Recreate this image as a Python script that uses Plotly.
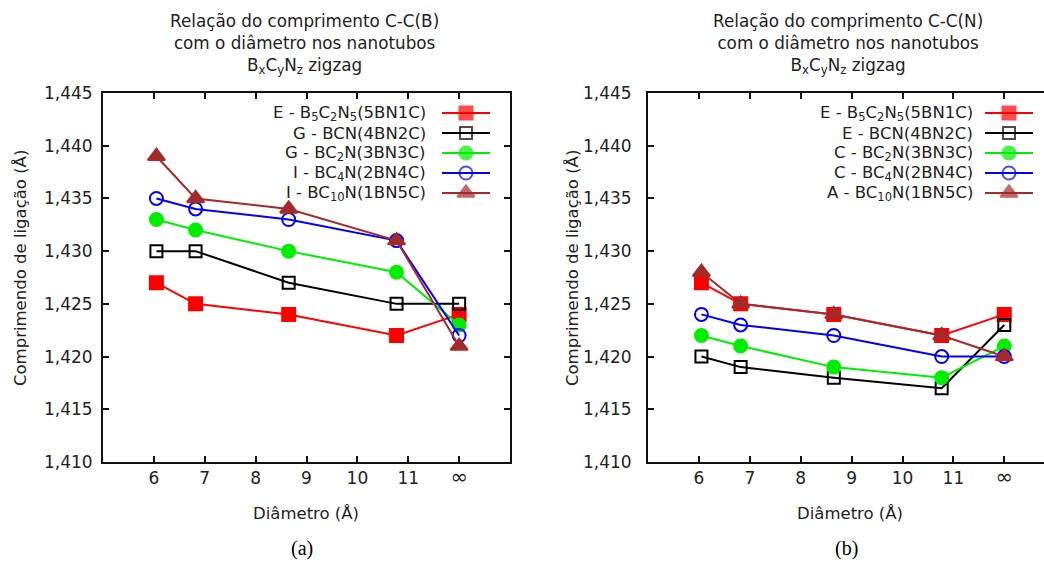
import plotly.graph_objects as go

# ---- data -------------------------------------------------------------
# tube diameters (Å); the last position stands for the infinite sheet (∞)
diam = [6.05, 6.82, 8.65, 10.77, 12.0]
x_tickvals = [6, 7, 8, 9, 10, 11, 12]
x_ticktext = ["6", "7", "8", "9", "10", "11", "<span style='font-size:21px'>∞</span>"]
y_tickvals = [1.410, 1.415, 1.420, 1.425, 1.430, 1.435, 1.440, 1.445]
y_ticktext = ["1,410", "1,415", "1,420", "1,425", "1,430", "1,435", "1,440", "1,445"]

# panel (a): C-C(B) bond length
a_5bn1c = [1.427, 1.425, 1.424, 1.422, 1.424]
a_4bn2c = [1.430, 1.430, 1.427, 1.425, 1.425]
a_3bn3c = [1.433, 1.432, 1.430, 1.428, 1.423]
a_2bn4c = [1.435, 1.434, 1.433, 1.431, 1.422]
a_1bn5c = [1.439, 1.435, 1.434, 1.431, 1.421]

# panel (b): C-C(N) bond length
b_5bn1c = [1.427, 1.425, 1.424, 1.422, 1.424]
b_4bn2c = [1.420, 1.419, 1.418, 1.417, 1.423]
b_3bn3c = [1.422, 1.421, 1.419, 1.418, 1.421]
b_2bn4c = [1.424, 1.423, 1.422, 1.420, 1.420]
b_1bn5c = [1.428, 1.425, 1.424, 1.422, 1.420]

a_labels = [
    "E - B<sub>5</sub>C<sub>2</sub>N<sub>5</sub>(5BN1C)",
    "G - BCN(4BN2C)",
    "G - BC<sub>2</sub>N(3BN3C)",
    "I - BC<sub>4</sub>N(2BN4C)",
    "I - BC<sub>10</sub>N(1BN5C)",
]
b_labels = [
    "E - B<sub>5</sub>C<sub>2</sub>N<sub>5</sub>(5BN1C)",
    "E - BCN(4BN2C)",
    "C - BC<sub>2</sub>N(3BN3C)",
    "C - BC<sub>4</sub>N(2BN4C)",
    "A - BC<sub>10</sub>N(1BN5C)",
]

# ---- styles -----------------------------------------------------------
W, H = 1044, 563
FONT = "DejaVu Sans"
TXT = "#222222"
styles = [
    dict(color="#ff0000", symbol="square", size=13, fill="#ff0000"),
    dict(color="#000000", symbol="square-open", size=12, fill="#000000"),
    dict(color="#00ee00", symbol="circle", size=13, fill="#00ee00"),
    dict(color="#0000ff", symbol="circle-open", size=13, fill="#0000ff"),
    dict(color="#a52a2a", symbol="triangle-up", size=15, fill="#a52a2a"),
]


def px_x(p):
    return p / W


def px_y(p):
    return 1 - p / H


fig = go.Figure()

panels = [
    ("x", "y", [a_5bn1c, a_4bn2c, a_3bn3c, a_2bn4c, a_1bn5c]),
    ("x2", "y2", [b_5bn1c, b_4bn2c, b_3bn3c, b_2bn4c, b_1bn5c]),
]
for xa, ya, series in panels:
    for vals, st in zip(series, styles):
        fig.add_trace(go.Scatter(
            x=diam, y=vals, xaxis=xa, yaxis=ya, mode="lines+markers",
            line=dict(color=st["color"], width=2),
            marker=dict(symbol=st["symbol"], size=st["size"], color=st["fill"],
                        line=dict(color=st["color"], width=2)),
            showlegend=False, cliponaxis=False,
        ))

# legend keys drawn on a full-page pixel overlay (x3/y3)
legend_rows = [113, 133, 153, 173, 193]
legend_cfg = [
    (a_labels, 428, 442, 490),
    (b_labels, 975, 985, 1033),
]
annotations = []
for labels, text_right, k0, k1 in legend_cfg:
    for lab, yy, st in zip(labels, legend_rows, styles):
        fig.add_trace(go.Scatter(
            x=[k0, (k0 + k1) / 2, k1], y=[yy, yy, yy], xaxis="x3", yaxis="y3",
            mode="lines+markers",
            line=dict(color=st["color"], width=2),
            marker=dict(symbol=st["symbol"], size=[0, st["size"], 0], color=st["fill"],
                        line=dict(color=st["color"], width=2)),
            showlegend=False, cliponaxis=False, hoverinfo="skip",
        ))
        annotations.append(dict(
            x=text_right, y=yy, xref="x3", yref="y3", text=lab, showarrow=False,
            xanchor="right", yanchor="middle",
            font=dict(family=FONT, size=16.5, color=TXT),
        ))

# titles, axis titles and panel letters
for cx, letter, bond, ylab_x in [(304, "(a)", "C-C(B)", 20), (848, "(b)", "C-C(N)", 572)]:
    annotations.append(dict(
        x=cx, y=44, xref="x3", yref="y3", showarrow=False,
        text=("Relação do comprimento " + bond + "<br>com o diâmetro nos nanotubos"
              "<br>B<sub>x</sub>C<sub>y</sub>N<sub>z</sub> zigzag"),
        align="center", xanchor="center", yanchor="middle",
        font=dict(family=FONT, size=16.8, color=TXT),
    ))
    annotations.append(dict(
        x=cx + 2, y=513, xref="x3", yref="y3", showarrow=False, text="Diâmetro (Å)",
        xanchor="center", yanchor="middle",
        font=dict(family=FONT, size=16.5, color=TXT),
    ))
    annotations.append(dict(
        x=ylab_x, y=268, xref="x3", yref="y3", showarrow=False,
        text="Comprimendo de ligação (Å)", textangle=-90,
        xanchor="center", yanchor="middle",
        font=dict(family=FONT, size=16.5, color=TXT),
    ))
    annotations.append(dict(
        x=cx - 2, y=548, xref="x3", yref="y3", showarrow=False, text=letter,
        xanchor="center", yanchor="middle",
        font=dict(family="Liberation Serif", size=20, color="#000000"),
    ))

axis_common = dict(
    showline=True, linecolor="#111111", linewidth=2, ticks="inside", ticklen=6,
    tickcolor="#111111", tickwidth=1.5, showgrid=False, zeroline=False,
    automargin=False,
    tickfont=dict(family=FONT, size=17, color=TXT),
)

y_dom = [px_y(462), px_y(93)]
fig.update_layout(
    width=W, height=H, margin=dict(l=0, r=0, t=0, b=0, autoexpand=False),
    paper_bgcolor="white", plot_bgcolor="rgba(0,0,0,0)",
    xaxis=dict(axis_common, domain=[px_x(103), px_x(510)], range=[5, 13],
               tickvals=x_tickvals, ticktext=x_ticktext, mirror="ticks", anchor="y"),
    yaxis=dict(axis_common, domain=y_dom, range=[1.410, 1.445],
               tickvals=y_tickvals, ticktext=y_ticktext, mirror="ticks", anchor="x",
               ticklabelstandoff=5),
    xaxis2=dict(axis_common, domain=[px_x(648), 1.0], range=[5, 5 + 396 / 50.9],
                tickvals=x_tickvals, ticktext=x_ticktext, mirror="ticks", anchor="y2"),
    yaxis2=dict(axis_common, domain=y_dom, range=[1.410, 1.445],
                tickvals=y_tickvals, ticktext=y_ticktext, mirror=False, anchor="x2",
                ticklabelstandoff=11),
    xaxis3=dict(domain=[0, 1], range=[0, W], visible=False, anchor="y3",
                fixedrange=True, automargin=False),
    yaxis3=dict(domain=[0, 1], range=[H, 0], visible=False, anchor="x3",
                fixedrange=True, automargin=False),
    annotations=annotations,
    showlegend=False,
)

fig.write_html("out.html")
